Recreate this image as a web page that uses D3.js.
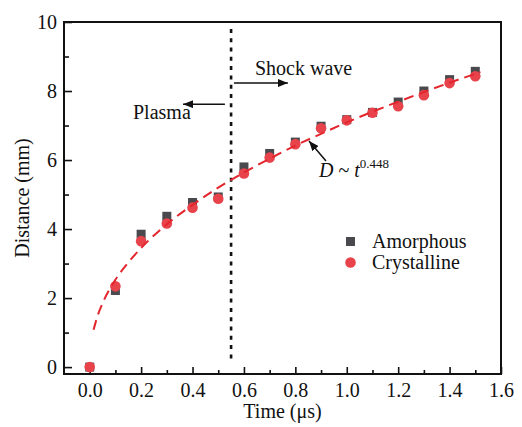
<!DOCTYPE html>
<html>
<head>
<meta charset="utf-8">
<script src="https://cdn.jsdelivr.net/npm/d3@7"></script>
<style>
  body { margin: 0; background: #fff; }
  svg text { font-family: "Liberation Serif", "Times New Roman", serif; fill: #111; }
</style>
</head>
<body>
<script>
const w = 522;
const h = 427;
const margin = { left: 64, right: 21, top: 22, bottom: 53 };

// measured points
const times = [0.0, 0.1, 0.2, 0.3, 0.4, 0.5, 0.6, 0.7, 0.8, 0.9, 1.0, 1.1, 1.2, 1.3, 1.4, 1.5];
const amorphous = [0, 2.22, 3.85, 4.37, 4.77, 4.93, 5.80, 6.19, 6.52, 6.98, 7.17, 7.38, 7.68, 8.00, 8.33, 8.57];
const crystalline = [0, 2.34, 3.65, 4.16, 4.62, 4.88, 5.61, 6.07, 6.46, 6.92, 7.15, 7.37, 7.56, 7.88, 8.23, 8.43];

// fitted curve D ~ t^0.448
const fitT = [0.015, 0.03, 0.05, 0.1, 0.15, 0.2, 0.3, 0.4, 0.5, 0.6, 0.7, 0.8, 0.9, 1.0, 1.1, 1.2, 1.3, 1.4, 1.52];
const fitD = [1.08, 1.47, 1.85, 2.53, 3.03, 3.45, 4.14, 4.70, 5.20, 5.64, 6.04, 6.42, 6.76, 7.09, 7.40, 7.69, 7.97, 8.24, 8.55];

const xTicks = [0.0, 0.2, 0.4, 0.6, 0.8, 1.0, 1.2, 1.4, 1.6];
const xMinor = [0.1, 0.3, 0.5, 0.7, 0.9, 1.1, 1.3, 1.5];
const yTicks = [0, 2, 4, 6, 8, 10];
const yMinor = [1, 3, 5, 7, 9];

const boundary = 0.55;

const xScale = d3.scaleLinear()
    .domain([-0.1, 1.6])
    .range([margin.left, w - margin.right]);

const yScale = d3.scaleLinear()
    .domain([-0.2, 10])
    .range([h - margin.bottom, margin.top]);

const svg = d3.select("body")
    .append("svg")
    .attr("width", w)
    .attr("height", h);

const defs = svg.append("defs");
defs.append("marker")
    .attr("id", "arrow")
    .attr("viewBox", "0 0 10 8")
    .attr("refX", 10)
    .attr("refY", 4)
    .attr("markerWidth", 10)
    .attr("markerHeight", 8)
    .attr("markerUnits", "userSpaceOnUse")
    .attr("orient", "auto")
    .append("path")
    .attr("d", "M0,0 L10,4 L0,8 Z")
    .attr("fill", "#111");

// axes, ticks point inward
const xAxis = d3.axisBottom(xScale)
    .tickValues(xTicks)
    .tickSize(-7)
    .tickSizeOuter(0)
    .tickPadding(9)
    .tickFormat(d3.format(".1f"));

const xAxisMinor = d3.axisBottom(xScale)
    .tickValues(xMinor)
    .tickSize(-4)
    .tickSizeOuter(0)
    .tickFormat("");

const yAxis = d3.axisLeft(yScale)
    .tickValues(yTicks)
    .tickSize(-8)
    .tickSizeOuter(0)
    .tickPadding(7)
    .tickFormat(d3.format("d"));

const yAxisMinor = d3.axisLeft(yScale)
    .tickValues(yMinor)
    .tickSize(-5)
    .tickSizeOuter(0)
    .tickFormat("");

[xAxis, xAxisMinor].forEach(ax => {
    svg.append("g")
        .attr("class", "x-axis")
        .attr("transform", `translate(0, ${h - margin.bottom})`)
        .call(ax);
});
[yAxis, yAxisMinor].forEach(ax => {
    svg.append("g")
        .attr("class", "y-axis")
        .attr("transform", `translate(${margin.left}, 0)`)
        .call(ax);
});

svg.selectAll(".x-axis, .y-axis").selectAll("path.domain").remove();
svg.selectAll(".x-axis line, .y-axis line")
    .attr("stroke", "#111")
    .attr("stroke-width", 1.6);
svg.selectAll(".x-axis text, .y-axis text")
    .attr("font-size", 20)
    .attr("font-family", "Liberation Serif")
    .attr("fill", "#111");

// frame
svg.append("rect")
    .attr("x", margin.left)
    .attr("y", margin.top)
    .attr("width", w - margin.left - margin.right)
    .attr("height", h - margin.top - margin.bottom)
    .attr("fill", "none")
    .attr("stroke", "#111")
    .attr("stroke-width", 2);

// axis titles
svg.append("text")
    .attr("x", (margin.left + w - margin.right) / 2)
    .attr("y", 418)
    .attr("text-anchor", "middle")
    .attr("font-size", 20)
    .text("Time (μs)");

svg.append("text")
    .attr("transform", `translate(29, ${(margin.top + h - margin.bottom) / 2}) rotate(-90)`)
    .attr("text-anchor", "middle")
    .attr("font-size", 20)
    .text("Distance (mm)");

// plasma / shock wave boundary
svg.append("line")
    .attr("x1", xScale(boundary))
    .attr("x2", xScale(boundary))
    .attr("y1", yScale(9.8))
    .attr("y2", yScale(0.1))
    .attr("stroke", "#111")
    .attr("stroke-width", 2.6)
    .attr("stroke-dasharray", "4,5.3");

// data points
const pts = times.map((t, i) => ({ t: t, a: amorphous[i], c: crystalline[i] }));

svg.selectAll("rect.amorphous")
    .data(pts)
    .enter()
    .append("rect")
    .attr("class", "amorphous")
    .attr("x", d => xScale(d.t) - 4.5)
    .attr("y", d => yScale(d.a) - 4.5)
    .attr("width", 9)
    .attr("height", 9)
    .attr("fill", "#4a4a4e");

svg.selectAll("circle.crystalline")
    .data(pts)
    .enter()
    .append("circle")
    .attr("class", "crystalline")
    .attr("cx", d => xScale(d.t))
    .attr("cy", d => yScale(d.c))
    .attr("r", 5.3)
    .attr("fill", "#e8434b");

// fit curve
const fitLine = d3.line()
    .x(d => xScale(d[0]))
    .y(d => yScale(d[1]))
    .curve(d3.curveMonotoneX);

svg.append("path")
    .datum(fitT.map((t, i) => [t, fitD[i]]))
    .attr("d", fitLine)
    .attr("fill", "none")
    .attr("stroke", "#e3262e")
    .attr("stroke-width", 2)
    .attr("stroke-dasharray", "10,6");

// annotations
svg.append("line")
    .attr("x1", xScale(0.561)).attr("x2", xScale(0.771))
    .attr("y1", yScale(8.23)).attr("y2", yScale(8.23))
    .attr("stroke", "#111").attr("stroke-width", 1.5)
    .attr("marker-end", "url(#arrow)");

svg.append("text")
    .attr("x", 255).attr("y", 75)
    .attr("font-size", 20)
    .text("Shock wave");

svg.append("line")
    .attr("x1", xScale(0.526)).attr("x2", xScale(0.363))
    .attr("y1", yScale(7.62)).attr("y2", yScale(7.62))
    .attr("stroke", "#111").attr("stroke-width", 1.5)
    .attr("marker-end", "url(#arrow)");

svg.append("text")
    .attr("x", 133).attr("y", 119)
    .attr("font-size", 20)
    .text("Plasma");

svg.append("line")
    .attr("x1", 326).attr("y1", 161)
    .attr("x2", 309).attr("y2", 141)
    .attr("stroke", "#111").attr("stroke-width", 1.5)
    .attr("marker-end", "url(#arrow)");

const fitLabel = svg.append("text")
    .attr("x", 319).attr("y", 177)
    .attr("font-size", 20);
fitLabel.append("tspan").attr("font-style", "italic").text("D");
fitLabel.append("tspan").text(" ~ ");
fitLabel.append("tspan").attr("font-style", "italic").text("t");
fitLabel.append("tspan").attr("font-size", 13).attr("dy", -9).text("0.448");

// legend
const legend = svg.append("g");
legend.append("rect")
    .attr("x", 346).attr("y", 237)
    .attr("width", 9).attr("height", 9)
    .attr("fill", "#4a4a4e");
legend.append("text")
    .attr("x", 372).attr("y", 248)
    .attr("font-size", 20)
    .text("Amorphous");
legend.append("circle")
    .attr("cx", 350.5).attr("cy", 262.5)
    .attr("r", 5.3)
    .attr("fill", "#e8434b");
legend.append("text")
    .attr("x", 372).attr("y", 269)
    .attr("font-size", 20)
    .text("Crystalline");
</script>
</body>
</html>
